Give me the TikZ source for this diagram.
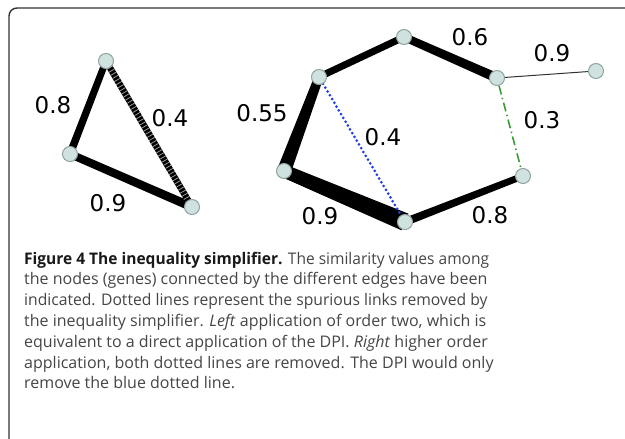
\documentclass[tikz,border=0pt]{standalone}
\usepackage{fontspec}
\setmainfont{Open Sans}
\newfontfamily\numfont{DejaVu Sans}
\usetikzlibrary{calc,backgrounds}
\definecolor{nodefill}{HTML}{CFE2DF}
\definecolor{nodedraw}{HTML}{8FA3A0}
\definecolor{dotblue}{HTML}{1E3FE6}
\definecolor{dashgreen}{HTML}{3C9A34}
\definecolor{captxt}{HTML}{454545}
\definecolor{framecol}{HTML}{333333}
\tikzset{
  vtx/.style={circle, fill=nodefill, draw=nodedraw, line width=1pt, minimum size=15pt, inner sep=0pt},
  wlabel/.style={font=\numfont\fontsize{23}{23}\selectfont, inner sep=0pt},
  capline/.style={anchor=base west, inner sep=0pt, font=\fontsize{16}{20}\selectfont, text=captxt},
}
\newcommand{\taperedge}[4]{%
  \fill[black] ($(#1.center)!#3!90:(#2.center)$) -- ($(#2.center)!#4!-90:(#1.center)$)
     -- ($(#2.center)!#4!90:(#1.center)$) -- ($(#1.center)!#3!-90:(#2.center)$) -- cycle;}
\begin{document}
\begin{tikzpicture}[x=1pt,y=-1pt]
\useasboundingbox (0,0) rectangle (625,439);
% frame
\draw[framecol, line width=1.4pt, rounded corners=8pt] (625,8) -- (9,8) -- (9,439);

% left triangle nodes
\node[vtx] (T) at (106,61) {};
\node[vtx] (L) at (70,154) {};
\node[vtx] (R) at (192,207) {};
% right graph nodes
\node[vtx] (A) at (319,77) {};
\node[vtx] (B) at (404,37) {};
\node[vtx] (C) at (497,78) {};
\node[vtx] (D) at (596,71) {};
\node[vtx] (E) at (284,171) {};
\node[vtx] (F) at (405,222) {};
\node[vtx] (G) at (523,176) {};

\begin{pgfonlayer}{background}
  % left triangle edges (half widths)
  \taperedge{T}{L}{3.4pt}{3.8pt}
  \taperedge{L}{R}{4pt}{4.4pt}
  \draw[line width=6.5pt, black] (T.center) -- (R.center);
  \draw[line width=6.5pt, white!60!black, dash pattern=on 0.8pt off 2.8pt] (T.center) -- (R.center);
  % right graph edges (half widths)
  \taperedge{A}{B}{3.5pt}{3.5pt}
  \taperedge{B}{C}{4pt}{4.8pt}
  \draw[line width=1pt, black!80] (C.center) -- (D.center);
  \taperedge{A}{E}{4.5pt}{7pt}
  \taperedge{E}{F}{6.5pt}{9pt}
  \taperedge{F}{G}{4pt}{3.3pt}
  \draw[dotblue, line width=3pt, line cap=round, dash pattern=on 0pt off 4.4pt] (A) -- (F);
  \draw[dashgreen, line width=1.6pt, dash pattern=on 9pt off 3.5pt on 1.5pt off 3.5pt] (C) -- (G);
\end{pgfonlayer}

% weight labels
\node[wlabel] (l1) at (53,105) {0.8};
\node[wlabel] (l2) at (170,118) {0.4};
\node[wlabel] (l3) at (108,203) {0.9};
\node[wlabel] (r1) at (262,113) {0.55};
\node[wlabel] (r2) at (383,137) {0.4};
\node[wlabel] (r3) at (470,37) {0.6};
\node[wlabel] (r4) at (552,53) {0.9};
\node[wlabel] (r5) at (542,120) {0.3};
\node[wlabel] (r6) at (320,216) {0.9};
\node[wlabel] (r7) at (490,215) {0.8};

% caption
\node[capline, xscale=0.97] (c1) at (24,264) {\textcolor{black!90}{\bfseries Figure 4 The inequality simplifier.} The similarity values among};
\node[capline] (c2) at (24,284.8) {the nodes (genes) connected by the different edges have been};
\node[capline, xscale=0.98] (c3) at (24,305.6) {indicated. Dotted lines represent the spurious links removed by};
\node[capline] (c4) at (24,326.4) {the inequality simplifier. \textit{Left} application of order two, which is};
\node[capline] (c5) at (24,347.2) {equivalent to a direct application of the DPI. \textit{Right} higher order};
\node[capline] (c6) at (24,368) {application, both dotted lines are removed. The DPI would only};
\node[capline] (c7) at (24,388.8) {remove the blue dotted line.};
\end{tikzpicture}
\end{document}
